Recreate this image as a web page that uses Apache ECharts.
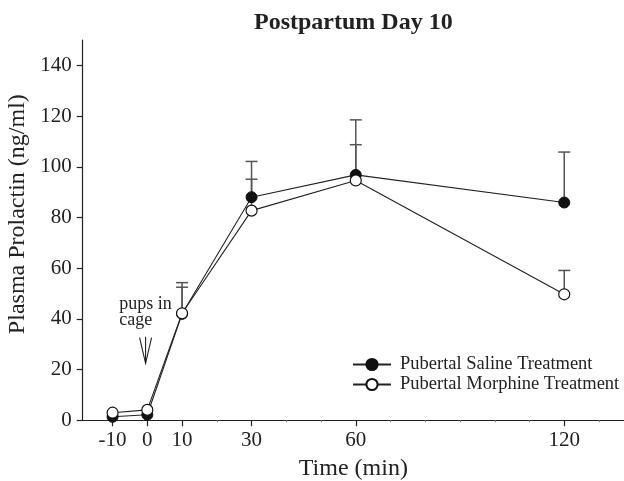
<!DOCTYPE html>
<html>
<head>
<meta charset="utf-8">
<script src="https://cdn.jsdelivr.net/npm/echarts@6/dist/echarts.min.js"></script>
<style>
html,body{margin:0;padding:0;background:#fff;}
#chart{width:624px;height:481px;}
</style>
</head>
<body>
<div id="chart"></div>
<script>
// ---- data ----
const times = [-10, 0, 10, 30, 60, 120];
const salineMean = [1.4, 2.2, 42.0, 88.0, 96.8, 85.9];
const salineUpper = [null, null, 54.3, 102.1, 118.5, 105.8];
const morphineMean = [3.0, 4.1, 42.2, 82.7, 94.6, 49.7];
const morphineUpper = [null, null, 52.5, 95.1, 108.7, 59.1];
const xMajorTicks = [-10, 0, 10, 30, 60, 120];
const xMinorTicks = [20, 40, 50, 70, 80, 90, 100, 110, 130];
const yTicks = [0, 20, 40, 60, 80, 100, 120, 140];
const seriesNames = ['Pubertal Saline Treatment', 'Pubertal Morphine Treatment'];
const titleText = 'Postpartum Day 10';
const xName = 'Time (min)';
const yName = 'Plasma Prolactin (ng/ml)';
const annotationText = 'pups in\ncage';
const annotationArrow = [[-0.5, 22.5, 33]]; // time, tip value, tail value
const annotationLabel = [[-8.1, 49.1]];

const FONT = 'Liberation Serif';
const INK = '#222';

function pairs(xs, ys) { return xs.map((x, i) => [x, ys[i]]); }
function errData(xs, lo, hi) {
  const out = [];
  xs.forEach((x, i) => { if (hi[i] != null) out.push([x, lo[i], hi[i]]); });
  return out;
}
function errRender(params, api) {
  const x = api.value(0), lo = api.value(1), hi = api.value(2);
  const p0 = api.coord([x, lo]);
  const p1 = api.coord([x, hi]);
  const st = { stroke: '#555', lineWidth: 1.5 };
  return {
    type: 'group',
    children: [
      { type: 'line', shape: { x1: p0[0], y1: p0[1], x2: p1[0], y2: p1[1] }, style: st },
      { type: 'line', shape: { x1: p1[0] - 6, y1: p1[1], x2: p1[0] + 6, y2: p1[1] }, style: st }
    ]
  };
}

const chart = echarts.init(document.getElementById('chart'), null, { renderer: 'canvas' });
const xMin = -18.6, xMax = 137.2;
chart.setOption({
  animation: false,
  backgroundColor: '#fff',
  title: {
    text: titleText,
    left: 254, top: 11, padding: 0,
    textStyle: { fontFamily: FONT, fontWeight: 'bold', fontSize: 24, color: INK }
  },
  grid: { left: 82.7, right: 0, top: 40, bottom: 60.7, containLabel: false, outerBoundsMode: 'none' },
  legend: {
    orient: 'vertical', left: 352, top: 355, padding: 0,
    itemWidth: 38, itemHeight: 14, itemGap: 1,
    data: seriesNames,
    textStyle: { fontFamily: FONT, fontSize: 18.5, color: INK, padding: [0, 0, 0, 4] }
  },
  xAxis: [
    {
      type: 'value', min: xMin, max: xMax, position: 'bottom',
      axisLine: { onZero: false, lineStyle: { color: INK, width: 1.2 } },
      axisTick: { show: true, customValues: xMajorTicks, length: 6, lineStyle: { color: INK, width: 1.2 } },
      axisLabel: { customValues: xMajorTicks, fontFamily: FONT, fontSize: 21, color: INK, margin: 10 },
      splitLine: { show: false },
      name: xName, nameLocation: 'middle', nameGap: 36,
      nameTextStyle: { fontFamily: FONT, fontSize: 24, color: INK }
    },
    {
      type: 'value', min: xMin, max: xMax, position: 'bottom',
      axisLine: { show: false, onZero: false },
      axisTick: { show: true, customValues: xMinorTicks, length: 2, lineStyle: { color: '#888', width: 1 } },
      axisLabel: { show: false },
      splitLine: { show: false }
    }
  ],
  yAxis: {
    type: 'value', min: 0, max: 150,
    axisLine: { show: true, onZero: false, lineStyle: { color: INK, width: 1.2 } },
    axisTick: { show: true, customValues: yTicks, length: 6, lineStyle: { color: INK, width: 1.2 } },
    axisLabel: { customValues: yTicks, fontFamily: FONT, fontSize: 21, color: INK, margin: 11 },
    splitLine: { show: false },
    name: yName, nameLocation: 'middle', nameGap: 44,
    nameTextStyle: { fontFamily: FONT, fontSize: 24, color: INK, padding: [0, 0, 0, 32] }
  },
  series: [
    {
      name: 'errSaline', type: 'custom', xAxisIndex: 0, z: 1,
      renderItem: errRender, data: errData(times, salineMean, salineUpper)
    },
    {
      name: 'errMorphine', type: 'custom', xAxisIndex: 0, z: 1,
      renderItem: errRender, data: errData(times, morphineMean, morphineUpper)
    },
    {
      name: seriesNames[0], type: 'line', xAxisIndex: 0, z: 3,
      data: pairs(times, salineMean),
      symbol: 'circle', symbolSize: 11, showAllSymbol: true,
      lineStyle: { color: INK, width: 1.1 },
      itemStyle: { color: '#111', borderColor: '#111', borderWidth: 1 }
    },
    {
      name: seriesNames[1], type: 'line', xAxisIndex: 0, z: 4,
      data: pairs(times, morphineMean),
      symbol: 'circle', symbolSize: 11, showAllSymbol: true,
      lineStyle: { color: INK, width: 1.1 },
      itemStyle: { color: '#fff', borderColor: '#111', borderWidth: 1.2 }
    },
    {
      name: 'arrow', type: 'custom', xAxisIndex: 0, z: 5, silent: true,
      data: annotationArrow,
      renderItem: function (params, api) {
        const tip = api.coord([api.value(0), api.value(1)]);
        const tail = api.coord([api.value(0), api.value(2)]);
        const st = { stroke: INK, lineWidth: 1.1, fill: null };
        return {
          type: 'group',
          children: [
            { type: 'line', shape: { x1: tail[0], y1: tail[1], x2: tip[0], y2: tip[1] }, style: st },
            { type: 'polyline', shape: { points: [[tip[0] - 6, tail[1] + 1], [tip[0], tip[1]], [tip[0] + 6, tail[1] + 1]] }, style: st }
          ]
        };
      }
    },
    {
      name: 'note', type: 'custom', xAxisIndex: 0, z: 5, silent: true,
      data: annotationLabel,
      renderItem: function (params, api) {
        const p = api.coord([api.value(0), api.value(1)]);
        return {
          type: 'text', x: p[0], y: p[1],
          style: { text: annotationText, fontFamily: FONT, fontSize: 18, lineHeight: 16, fill: INK, align: 'left', verticalAlign: 'top' }
        };
      }
    }
  ]
});
</script>
</body>
</html>
